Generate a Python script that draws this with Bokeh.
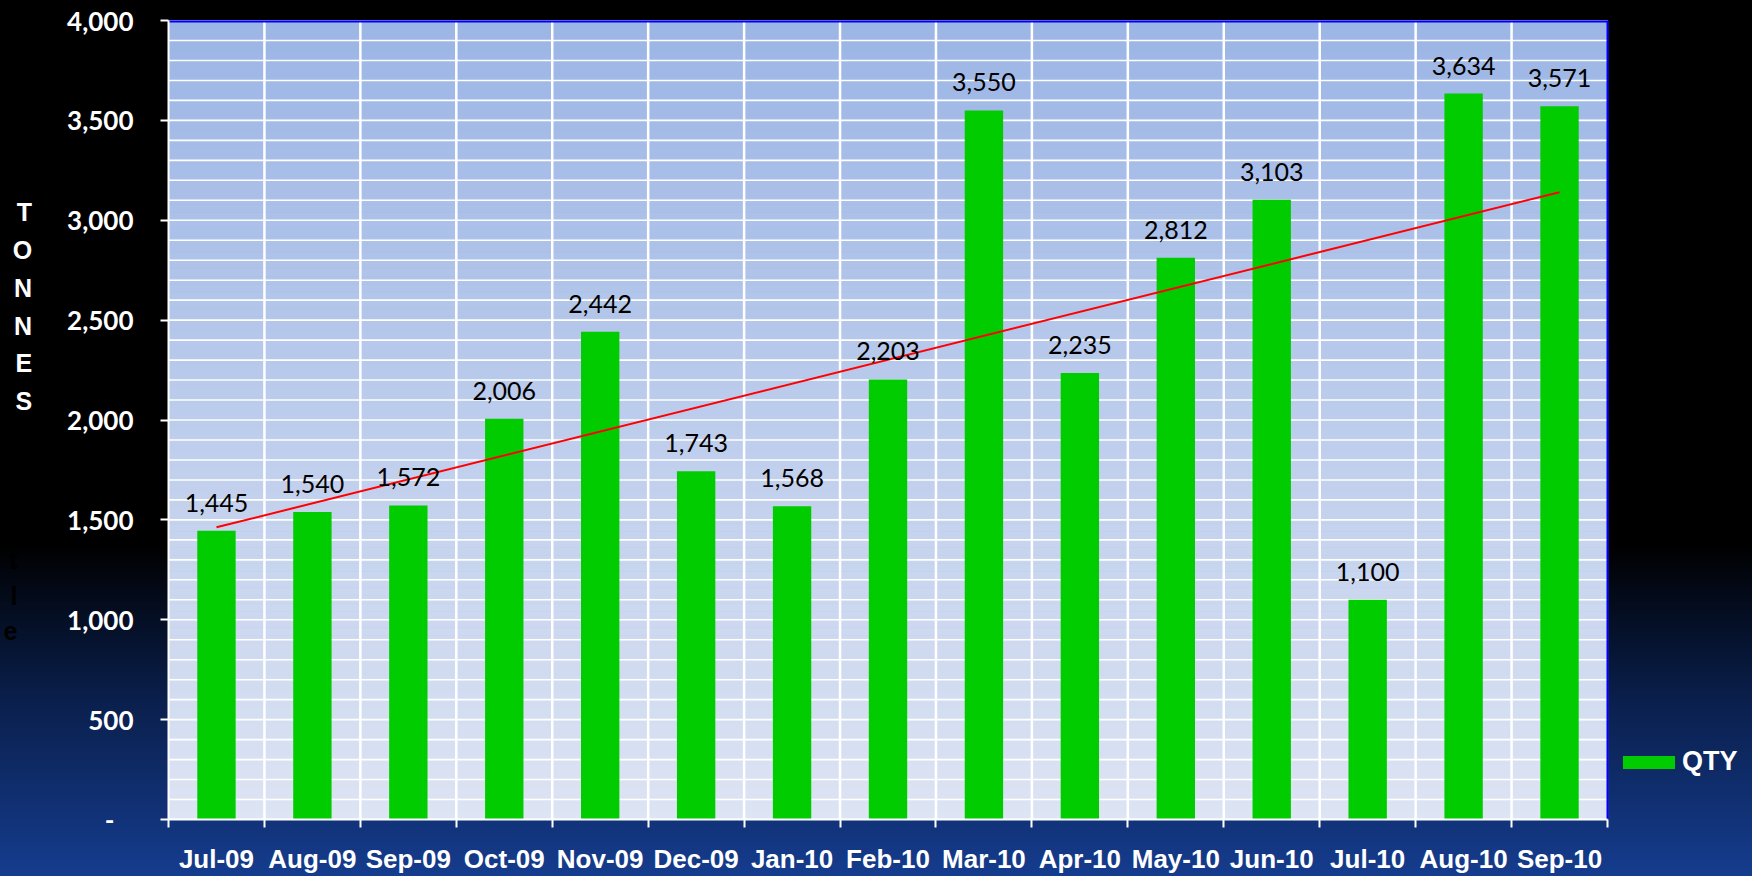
import numpy as np
from bokeh.plotting import figure
from bokeh.models import (ColumnDataSource, FixedTicker, LabelSet, Legend, LegendItem,
                          Range1d, LinearAxis)
from bokeh.core.properties import value
from bokeh.embed import file_html
from bokeh.resources import INLINE

# ---------------- data ----------------
months = ["Jul-09", "Aug-09", "Sep-09", "Oct-09", "Nov-09", "Dec-09", "Jan-10", "Feb-10",
          "Mar-10", "Apr-10", "May-10", "Jun-10", "Jul-10", "Aug-10", "Sep-10"]
qty = [1445, 1540, 1572, 2006, 2442, 1743, 1568, 2203, 3550, 2235, 2812, 3103, 1100, 3634, 3571]
y_ticks = [0, 500, 1000, 1500, 2000, 2500, 3000, 3500, 4000]
y_tick_labels = ["-\u00a0\u00a0\u00a0", "500", "1,000", "1,500", "2,000", "2,500", "3,000",
                 "3,500", "4,000"]
series_name = "QTY"
axis_title = "TONNES"
hidden_title = "tle"
y_max = 4000
grid_step = 100

# ---------------- layout constants ----------------
W, H = 1752, 876
FL, FT, FB = 168, 20, 820      # frame edges in figure px
AREA_R = 1607                  # right edge of the chart area (legend sits beyond it)

n = len(months)
xs = list(range(n))
x0, x1 = -0.5, n - 0.5
x_end = x0 + (x1 - x0) * (W - FL) / (AREA_R - FL)
labels = [f"{v:,}" for v in qty]
src = ColumnDataSource(dict(x=xs, qty=qty, label=labels))

p = figure(width=W, height=H, x_range=Range1d(x0, x_end), y_range=Range1d(0, y_max),
           output_backend="svg", toolbar_location=None,
           min_border_left=FL, min_border_right=0, min_border_top=FT,
           min_border_bottom=H - FB, border_fill_alpha=0, background_fill_alpha=0,
           outline_line_color=None)
# outer background: black fading into dark blue at the bottom
p.styles = {"background-image":
            "linear-gradient(to bottom, #000000 0px, #000000 545px, #0a1f4c 700px, #153c8e 876px)"}

def lerp(c0, c1, t):
    return "#%02x%02x%02x" % tuple(int(round(a + (b - a) * t)) for a, b in zip(c0, c1))

# chart-area gradient (light blue top -> pale bottom)
ng = 100
ys = np.linspace(0, y_max, ng + 1)
cols = [lerp((221, 228, 243), (155, 181, 229), (k + 0.5) / ng) for k in range(ng)]
p.quad(left=x0, right=x1, bottom=ys[:-1], top=ys[1:], fill_color=cols, line_color=cols,
       line_width=1.2, level="image")

# grid lines limited to the chart area
hgrid = list(range(0, y_max + 1, grid_step))
vgrid = [i + 0.5 for i in range(n - 1)]
p.xgrid.visible = False
p.ygrid.visible = False
p.segment(x0=[x0] * len(hgrid), x1=[x1] * len(hgrid), y0=hgrid, y1=hgrid,
          line_color="white", line_width=1.6, level="underlay")
p.segment(x0=vgrid, x1=vgrid, y0=[0] * len(vgrid), y1=[y_max] * len(vgrid),
          line_color="white", line_width=2.5, level="underlay")

# blue border on top and right of the chart area
p.line(x=[x0, x1], y=[y_max, y_max], line_color="#0000FF", line_width=4)
p.line(x=[x1, x1], y=[0, y_max], line_color="#0000FF", line_width=2)

# bars
bars = p.vbar(x="x", top="qty", width=0.4, source=src, fill_color="#00CC00",
              line_color=None)

# linear trend line
k, b0 = np.polyfit(xs, qty, 1)
p.line(x=[xs[0], xs[-1]], y=[b0 + k * xs[0], b0 + k * xs[-1]], line_color="#FF0000",
       line_width=2)

# data labels
p.add_layout(LabelSet(x="x", y="qty", text="label", source=src, y_offset=19,
                      text_align="center", text_baseline="alphabetic",
                      text_font=value("Lato"), text_font_size="25px",
                      text_color="black"))

# y axis
ya = p.yaxis[0]
ya.ticker = FixedTicker(ticks=y_ticks)
ya.major_label_overrides = {t: l for t, l in zip(y_ticks, y_tick_labels)}
ya.major_tick_out = 8
ya.major_tick_in = 0
ya.minor_tick_out = 0
ya.minor_tick_in = 0
ya.major_tick_line_color = "white"
ya.major_tick_line_width = 2
ya.axis_line_color = "white"
ya.axis_line_width = 2
ya.major_label_text_font = "Lato"
ya.major_label_text_font_style = "bold"
ya.major_label_text_font_size = "26px"
ya.major_label_text_color = "white"
ya.major_label_standoff = 27
# stacked vertical title: one letter per line, padded so it sits in the upper half
ya.axis_label = "\n".join(list(axis_title) + ["\u00a0"] * 6)
ya.axis_label_orientation = "horizontal"
ya.axis_label_text_font = "Liberation Sans"
ya.axis_label_text_font_style = "bold"
ya.axis_label_text_font_size = "25px"
ya.axis_label_text_line_height = 1.348
ya.axis_label_text_color = "white"
ya.axis_label_standoff = 32
ya.axis_label_text_align = "center"

# faint dark letters below the title (as in the original), on a bare extra axis
ya2 = LinearAxis(ticker=FixedTicker(ticks=[]), axis_line_alpha=0, major_tick_out=0,
                 major_tick_in=0, minor_tick_out=0, minor_tick_in=0,
                 axis_label="\n".join(["\u00a0"] * 10 + list(hidden_title)),
                 axis_label_orientation="horizontal", axis_label_standoff=-8,
                 axis_label_text_font="Liberation Sans", axis_label_text_font_style="bold",
                 axis_label_text_font_size="25px", axis_label_text_line_height=1.254,
                 axis_label_text_color="black", axis_label_text_align="center")
p.add_layout(ya2, "left")

# x axis
xa = p.xaxis[0]
xa.bounds = (x0, x1)
xa.ticker = FixedTicker(ticks=xs, minor_ticks=[i - 0.5 for i in range(n + 1)])
xa.major_label_overrides = {i: m for i, m in enumerate(months)}
xa.major_tick_out = 0
xa.major_tick_in = 0
xa.minor_tick_out = 8
xa.minor_tick_in = 0
xa.minor_tick_line_color = "white"
xa.minor_tick_line_width = 2
xa.axis_line_color = "white"
xa.axis_line_width = 2
xa.major_label_text_font = "Liberation Sans"
xa.major_label_text_font_style = "bold"
xa.major_label_text_font_size = "26px"
xa.major_label_text_color = "white"
xa.major_label_standoff = 16

# legend, right of the chart area
legend = Legend(items=[LegendItem(label=series_name, renderers=[bars])],
                location=(1616 - FL, 42), background_fill_alpha=0, border_line_alpha=0,
                padding=0, margin=0, spacing=0, glyph_width=65, glyph_height=16,
                label_standoff=1, label_text_font="Liberation Sans",
                label_text_font_style="bold", label_text_font_size="27px",
                label_text_color="white")
p.add_layout(legend)

open("out.html", "w").write(file_html(p, INLINE))
